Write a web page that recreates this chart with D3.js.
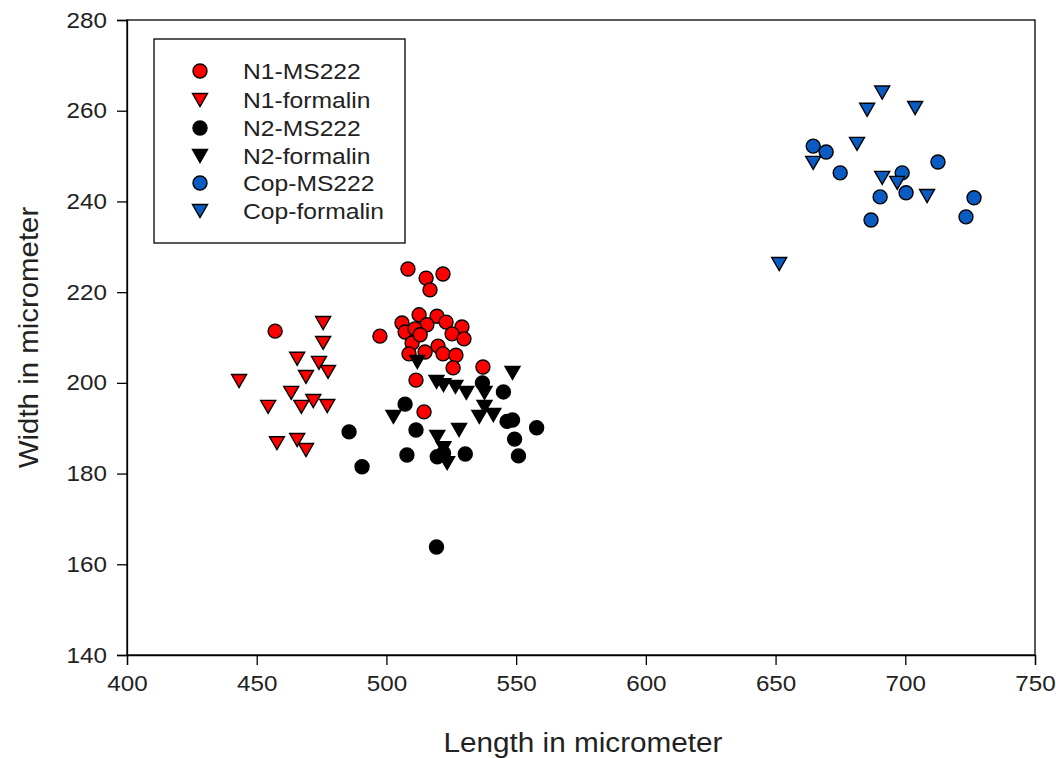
<!DOCTYPE html>
<html><head><meta charset="utf-8">
<script src="https://cdn.jsdelivr.net/npm/d3@7"></script>
<style>body{margin:0;background:#fff}svg{display:block}text{font-family:"Liberation Sans",Arial,sans-serif}</style>
</head><body>
<script>
const seriesNames = ["N1-MS222","N1-formalin","N2-MS222","N2-formalin","Cop-MS222","Cop-formalin"];
const seriesColors = ["#ff0000","#ff0000","#000000","#000000","#0a5cc2","#0a5cc2"];
const seriesShapes = ["circle","triangle","circle","triangle","circle","triangle"];
const xTicks = [400,450,500,550,600,650,700,750];
const yTicks = [140,160,180,200,220,240,260,280];

const n1ms = [[508.3,225.1],[515.3,223.1],[521.8,224.0],[516.8,220.5],[512.6,215.0],[519.5,214.7],[506.0,213.2],[515.6,212.8],[523.0,213.4],[529.1,212.3],[507.2,211.2],[511.0,211.9],[497.5,210.3],[525.3,210.8],[529.9,209.7],[509.9,208.8],[513.0,210.6],[519.9,208.1],[508.7,206.4],[514.9,206.8],[521.8,206.4],[526.8,206.1],[525.7,203.3],[537.2,203.5],[511.4,200.6],[514.5,193.6],[457.1,211.4]];
const n1form = [[475.6,213.2],[475.6,208.8],[465.6,205.3],[474.0,204.4],[477.5,202.4],[469.0,201.3],[443.2,200.4],[463.3,197.8],[467.2,194.7],[471.8,196.0],[477.2,194.9],[454.4,194.7],[457.8,186.7],[465.6,187.4],[469.0,185.2]];
const n2ms = [[485.6,189.2],[490.6,181.5],[507.2,195.3],[511.4,189.6],[507.9,184.1],[519.6,183.7],[522.0,184.5],[530.4,184.3],[537.0,200.0],[545.1,198.0],[548.6,191.8],[546.5,191.5],[549.4,187.6],[550.9,183.9],[557.9,190.1],[519.3,163.8]];
const n2form = [[502.7,192.5],[511.9,204.6],[519.3,200.2],[522.0,199.5],[526.6,199.1],[530.8,197.8],[537.8,197.8],[537.8,194.7],[535.8,192.5],[541.2,192.9],[548.6,202.2],[519.6,188.1],[528.0,189.6],[523.4,182.3],[522.0,185.6]];
const copms = [[664.5,252.2],[669.5,250.9],[674.9,246.3],[686.8,235.9],[690.3,241.0],[698.8,246.3],[700.3,241.9],[712.6,248.7],[723.4,236.6],[726.5,240.8]];
const copform = [[664.5,248.5],[651.4,226.2],[681.4,252.7],[685.3,260.2],[691.1,264.0],[703.8,260.6],[691.1,245.2],[696.9,244.1],[708.4,241.2]];
const seriesData = [n1ms,n1form,n2ms,n2form,copms,copform];

const W=1056,H=758;
const m={left:127,right:1035,top:20,bottom:655};
const svg=d3.select("body").append("svg").attr("width",W).attr("height",H);
const x=d3.scaleLinear().domain([400,750]).range([m.left,m.right]);
const y=d3.scaleLinear().domain([140,280]).range([m.bottom,m.top]);

function stretch(sel,f){
  sel.each(function(){const L=this.getComputedTextLength();
    d3.select(this).attr("textLength",L*f).attr("lengthAdjust","spacingAndGlyphs");});
}

svg.append("rect").attr("x",m.left).attr("y",m.top).attr("width",m.right-m.left).attr("height",m.bottom-m.top)
  .attr("fill","none").attr("stroke","#000").attr("stroke-width",1.3);

const xa=svg.append("g").attr("transform",`translate(0,${m.bottom})`)
  .call(d3.axisBottom(x).tickValues(xTicks).tickSize(10).tickPadding(10).tickFormat(d3.format("d")));
const ya=svg.append("g").attr("transform",`translate(${m.left},0)`)
  .call(d3.axisLeft(y).tickValues(yTicks).tickSize(10).tickPadding(10).tickFormat(d3.format("d")));
[xa,ya].forEach(a=>{
  a.select(".domain").attr("stroke","#000").attr("stroke-width",1.3);
  a.selectAll(".tick line").attr("stroke","#000").attr("stroke-width",1.3);
  a.selectAll(".tick text").attr("fill","#222").style("font-size","22px").style("font-family","'Liberation Sans',Arial,sans-serif");
  stretch(a.selectAll(".tick text"),1.1);
});

const xt=svg.append("text").attr("x",(m.left+m.right)/2+2).attr("y",752).attr("text-anchor","middle")
  .style("font-size","27px").attr("fill","#222").text("Length in micrometer");
stretch(xt,1.1);
const yt=svg.append("text").attr("transform",`translate(38,${(m.top+m.bottom)/2}) rotate(-90)`).attr("text-anchor","middle")
  .style("font-size","28px").attr("fill","#222").text("Width in micrometer");
stretch(yt,1.05);

const circ=d3.symbol().type(d3.symbolCircle).size(Math.PI*7*7);
function tri(){
  const w=15,h=13;
  return `M${-w/2},${-h/2}L${w/2},${-h/2}L0,${h/2}Z`;
}
function shapePath(s){return s==="circle"?circ():tri();}

const g=svg.append("g");
seriesData.forEach((data,i)=>{
  g.selectAll(null).data(data).enter().append("path")
    .attr("d",shapePath(seriesShapes[i]))
    .attr("transform",d=>`translate(${x(d[0])},${y(d[1])})`)
    .attr("fill",seriesColors[i]).attr("stroke","#000").attr("stroke-width",1.4);
});

const lg=svg.append("g");
lg.append("rect").attr("x",154).attr("y",39).attr("width",251).attr("height",204)
  .attr("fill","#fff").attr("stroke","#000").attr("stroke-width",1.3);
const ly=[71,100,128,156,183,211];
seriesNames.forEach((nm,i)=>{
  lg.append("path").attr("d",shapePath(seriesShapes[i])).attr("transform",`translate(200,${ly[i]})`)
    .attr("fill",seriesColors[i]).attr("stroke","#000").attr("stroke-width",1.4);
  const t=lg.append("text").attr("x",243).attr("y",ly[i]+8).style("font-size","22px").attr("fill","#222").text(nm);
  stretch(t,1.12);
});
</script>
</body></html>
